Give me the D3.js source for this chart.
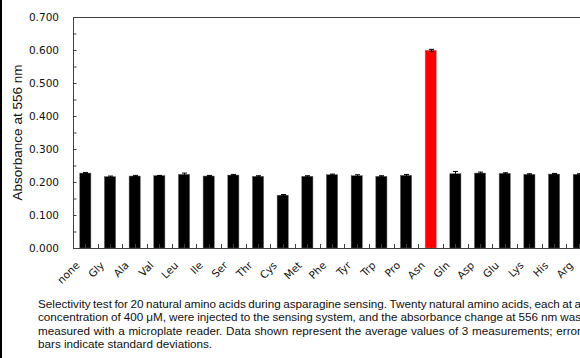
<!DOCTYPE html>
<html>
<head>
<meta charset="utf-8">
<script src="https://cdn.jsdelivr.net/npm/d3@7"></script>
<style>
  html, body { margin: 0; padding: 0; background: #fff; }
  svg { display: block; }
</style>
</head>
<body>
<svg id="chart" width="580" height="358"></svg>
<script>
// Amino acids tested (first entry is the blank control)
const categories = ["none", "Gly", "Ala", "Val", "Leu", "Ile", "Ser", "Thr", "Cys", "Met",
  "Phe", "Tyr", "Trp", "Pro", "Asn", "Gln", "Asp", "Glu", "Lys", "His", "Arg"];
// Mean absorbance at 556 nm (n = 3)
const absorbance = [0.227, 0.216, 0.218, 0.219, 0.223, 0.218, 0.221, 0.217, 0.160, 0.217,
  0.222, 0.219, 0.217, 0.220, 0.599, 0.225, 0.227, 0.226, 0.223, 0.224, 0.223];
// Standard deviations
const stdDev = [0.002, 0.002, 0.002, 0.001, 0.004, 0.002, 0.002, 0.002, 0.002, 0.002,
  0.002, 0.003, 0.002, 0.003, 0.003, 0.007, 0.003, 0.002, 0.002, 0.002, 0.002];
const highlight = "Asn";
const yTickValues = [0, 0.1, 0.2, 0.3, 0.4, 0.5, 0.6, 0.7];
const yMinorTicks = d3.range(0, 0.7001, 0.05);
const yTitle = "Absorbance at 556 nm";
const captionLines = [
  "Selectivity test for 20 natural amino acids during asparagine sensing. Twenty natural amino acids, each at a",
  "concentration of 400 \u03bcM, were injected to the sensing system, and the absorbance change at 556 nm was",
  "measured with a microplate reader. Data shown represent the average values of 3 measurements; error",
  "bars indicate standard deviations."
];

const svg = d3.select("#chart");
const plotLeft = 73, plotTop = 17, plotBottom = 248, bandW = 24.67;

const x = d3.scaleBand()
  .domain(categories)
  .range([plotLeft, plotLeft + bandW * categories.length])
  .paddingInner(0.55).paddingOuter(0.275);
const y = d3.scaleLinear().domain([0, 0.7]).range([plotBottom, plotTop]);

// left border strip
svg.append("rect").attr("x", 0).attr("y", 0).attr("width", 2).attr("height", 358).attr("fill", "#000");

// bars
svg.append("g").selectAll("rect")
  .data(categories)
  .join("rect")
  .attr("x", d => x(d))
  .attr("width", x.bandwidth())
  .attr("y", (d, i) => y(absorbance[i]))
  .attr("height", (d, i) => y(0) - y(absorbance[i]))
  .attr("fill", d => d === highlight ? "#ff0000" : "#000")
  .attr("stroke", d => d === highlight ? "#c86060" : "#555")
  .attr("stroke-width", 0.5);

// error bars
const eb = svg.append("g").attr("stroke", "#000").attr("stroke-width", 1);
categories.forEach((c, i) => {
  const cx = Math.round(x(c) + x.bandwidth() / 2) + 0.5;
  const hi = y(absorbance[i] + stdDev[i]), lo = y(absorbance[i] - stdDev[i]);
  eb.append("line").attr("x1", cx).attr("x2", cx).attr("y1", hi).attr("y2", lo);
  eb.append("line").attr("x1", cx - 2.5).attr("x2", cx + 2.5).attr("y1", hi).attr("y2", hi);
  eb.append("line").attr("x1", cx - 2.5).attr("x2", cx + 2.5).attr("y1", lo).attr("y2", lo);
});

// frame: left axis, top line, baseline
const axisColor = "#404040";
svg.append("line").attr("x1", plotLeft + 0.5).attr("x2", plotLeft + 0.5)
  .attr("y1", plotTop).attr("y2", plotBottom + 0.5).attr("stroke", axisColor);
svg.append("line").attr("x1", plotLeft).attr("x2", 580)
  .attr("y1", plotTop + 0.5).attr("y2", plotTop + 0.5).attr("stroke", axisColor);
svg.append("line").attr("x1", plotLeft).attr("x2", 580)
  .attr("y1", plotBottom + 0.5).attr("y2", plotBottom + 0.5).attr("stroke", axisColor);

// y axis: inward ticks every 0.05, labels every 0.1
const yAxis = d3.axisRight(y).tickValues(yMinorTicks).tickSize(3).tickFormat("");
const gy = svg.append("g").attr("transform", `translate(${plotLeft + 0.5},0)`).call(yAxis);
gy.select(".domain").remove();
gy.selectAll(".tick line").attr("stroke", axisColor);

const gyl = svg.append("g").attr("transform", `translate(${plotLeft},0)`)
  .call(d3.axisLeft(y).tickValues(yTickValues).tickSize(0).tickPadding(14).tickFormat(d3.format(".3f")));
gyl.select(".domain").remove();
gyl.selectAll("text").attr("font-family", "DejaVu Sans").attr("font-size", 10.5).attr("fill", "#111");

// x axis: inward ticks at category boundaries and centres
const boundaries = d3.range(1, categories.length).map(i => plotLeft + i * bandW)
  .concat(categories.map(c => x(c) + x.bandwidth() / 2));
svg.append("g").selectAll("line").data(boundaries).join("line")
  .attr("x1", d => Math.round(d) + 0.5).attr("x2", d => Math.round(d) + 0.5)
  .attr("y1", plotBottom - 4).attr("y2", plotBottom)
  .attr("stroke", axisColor);

// category labels
svg.append("g").selectAll("text").data(categories).join("text")
  .attr("transform", d => `translate(${x(d) + x.bandwidth() / 2 - 5},${plotBottom + 18}) rotate(-45)`)
  .attr("text-anchor", "end")
  .attr("font-family", "DejaVu Sans").attr("font-size", 10.5)
  .attr("fill", "#111")
  .text(d => d);

// y axis title
svg.append("text")
  .attr("transform", `translate(22,${(plotTop + plotBottom) / 2}) rotate(-90)`)
  .attr("text-anchor", "middle")
  .attr("font-family", "Liberation Sans, Arial, sans-serif").attr("font-size", 13.5)
  .attr("fill", "#111")
  .text(yTitle);

// caption, justified between left and right margins
const capLeft = 38, capRight = 581, capTop = 307.5, capLead = 13.6;
const cap = svg.append("g").attr("font-family", "Liberation Sans, Arial, sans-serif")
  .attr("font-size", 11.7).attr("fill", "#111");
captionLines.forEach((line, li) => {
  const yy = capTop + li * capLead;
  const words = line.split(" ");
  if (li === captionLines.length - 1) {
    cap.append("text").attr("x", capLeft).attr("y", yy).text(line);
    return;
  }
  const nodes = words.map(w => cap.append("text").attr("y", yy).text(w));
  const widths = nodes.map(n => n.node().getComputedTextLength());
  const gap = (capRight - capLeft - d3.sum(widths)) / (words.length - 1);
  let cx = capLeft;
  nodes.forEach((n, k) => { n.attr("x", cx); cx += widths[k] + gap; });
});
</script>
</body>
</html>
